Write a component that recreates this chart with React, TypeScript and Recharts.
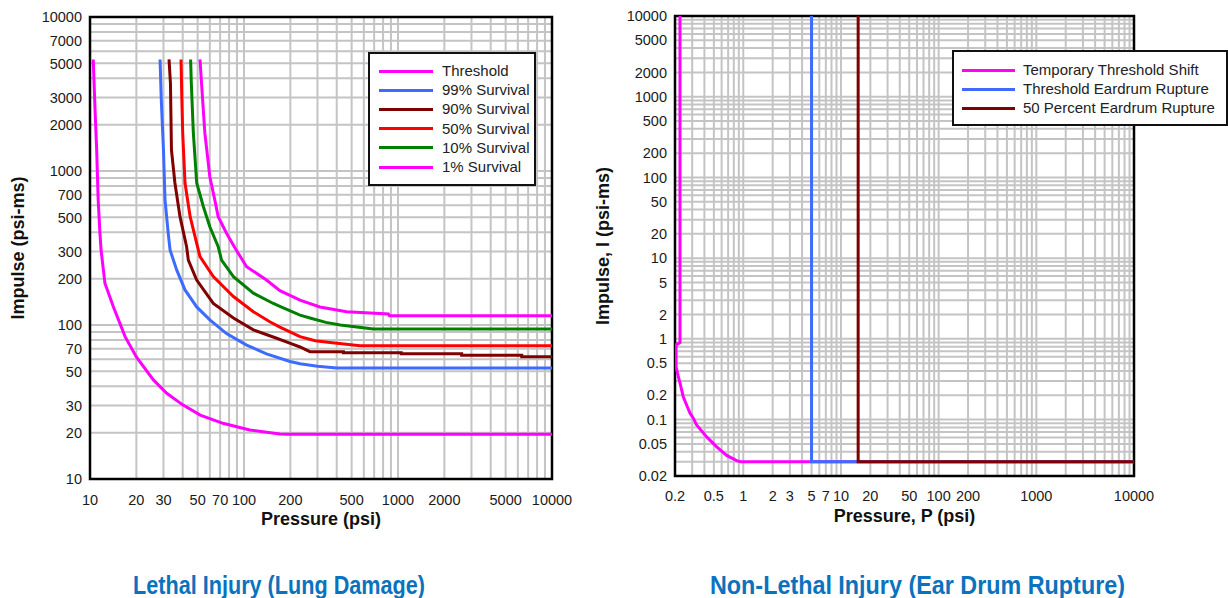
import React from "react";
import { LineChart, Line, XAxis, YAxis, CartesianGrid, ReferenceArea, Label } from "recharts";

type Pt = { p: number; i: number };
const pts = (rows: number[][]): Pt[] => rows.map(([p, i]) => ({ p, i }));

// Lethal injury (lung damage): [pressure psi, impulse psi-ms]
const lungThreshold = pts([
  [10.5, 5300], [10.6, 4000], [10.8, 2400], [11.05, 1370], [11.3, 650], [11.6, 395],
  [11.8, 307], [12.5, 187], [14.2, 131], [16.9, 84], [20, 62], [25.8, 44], [31.5, 36],
  [40, 30.3], [52, 26], [73, 23], [109, 20.8], [171, 19.6], [200, 19.5], [10000, 19.5],
]);
const lung99 = pts([
  [28.5, 5300], [29, 3000], [29.5, 2000], [30, 1370], [30.7, 650], [32.2, 395], [33.1, 307],
  [36.6, 227], [41.4, 169], [49.3, 131], [60, 108], [77, 88], [104, 74], [140, 65],
  [199, 58], [231, 56], [300, 54], [400, 52.5], [10000, 52.5],
]);
const lung90 = pts([
  [32.6, 5300], [33.3, 3700], [33.8, 1370], [35.6, 836], [38.4, 505], [42.4, 322],
  [43.5, 264], [49.3, 196], [63.2, 138], [85.4, 111], [115, 93], [163, 82], [200, 76],
  [231, 72], [268, 67.1], [442, 67.1], [442, 66.1], [1050, 66.1], [1050, 65.1],
  [2590, 65.1], [2590, 63.6], [6360, 63.6], [6360, 62.2], [10000, 62.2],
]);
const lung50 = pts([
  [39, 5300], [39.5, 2890], [40, 1760], [41.4, 836], [44.7, 505], [49.3, 339], [51.8, 278],
  [63.2, 206], [85.4, 153], [115, 122], [147, 105], [171, 97], [231, 84], [290, 79],
  [363, 77], [566, 73.4], [10000, 73.4],
]);
const lung10 = pts([
  [45, 5300], [45.5, 3700], [46.9, 1760], [49.3, 836], [54.5, 586], [60, 434], [68, 322],
  [71.5, 264], [85.4, 206], [115, 161], [155, 138], [171, 132], [231, 116], [268, 111],
  [340, 104], [422, 100], [692, 94.2], [10000, 94.2],
]);
const lung1 = pts([
  [51.8, 5300], [53, 3700], [55.7, 1760], [60, 918], [64.6, 649], [68, 505], [77, 394],
  [87.6, 315], [104, 239], [140, 196], [171, 167], [231, 145], [311, 131], [464, 122],
  [866, 118], [880, 115], [10000, 115],
]);

// Non-lethal injury (ear drum rupture)
const earTts = pts([
  [0.225, 10000], [0.225, 0.9], [0.205, 0.85], [0.205, 0.45], [0.215, 0.35], [0.225, 0.284],
  [0.243, 0.192], [0.27, 0.14], [0.285, 0.12], [0.308, 0.104], [0.333, 0.086], [0.422, 0.061],
  [0.535, 0.046], [0.676, 0.036], [0.855, 0.031], [0.93, 0.03], [10000, 0.03],
]);
const earThreshold = pts([[5, 10000], [5, 0.03], [10000, 0.03]]);
const ear50 = pts([[15, 10000], [15, 0.03], [10000, 0.03]]);

const lungXTicks = [10, 20, 30, 50, 70, 100, 200, 500, 1000, 2000, 5000, 10000];
const lungYTicks = [10, 20, 30, 50, 70, 100, 200, 300, 500, 700, 1000, 2000, 3000, 5000, 7000, 10000];
const earXTicks = [0.2, 0.5, 1, 2, 3, 5, 7, 10, 20, 50, 100, 200, 1000, 10000];
const earYTicks = [0.02, 0.05, 0.1, 0.2, 0.5, 1, 2, 5, 10, 20, 50, 100, 200, 500, 1000, 2000, 5000, 10000];

const MAGENTA = "#ff00ff";
const BLUE = "#3d6bff";
const MAROON = "#800000";
const RED = "#ff0000";
const GREEN = "#008000";

const lungSeries = [
  { name: "Threshold", color: MAGENTA, data: lungThreshold },
  { name: "99% Survival", color: BLUE, data: lung99 },
  { name: "90% Survival", color: MAROON, data: lung90 },
  { name: "50% Survival", color: RED, data: lung50 },
  { name: "10% Survival", color: GREEN, data: lung10 },
  { name: "1% Survival", color: MAGENTA, data: lung1 },
];
const earSeries = [
  { name: "Temporary Threshold Shift", color: MAGENTA, data: earTts },
  { name: "Threshold Eardrum Rupture", color: BLUE, data: earThreshold },
  { name: "50 Percent Eardrum Rupture", color: MAROON, data: ear50 },
];

// log-paper grid: 1..9 in each decade
function logGrid(lo: number, hi: number) {
  const out: number[] = [];
  for (let d = Math.floor(Math.log10(lo)); d < Math.log10(hi); d++) {
    for (let k = 1; k < 10; k++) {
      const v = +(k * Math.pow(10, d)).toPrecision(6);
      if (v >= lo && v <= hi) out.push(v);
    }
  }
  out.push(hi);
  return out;
}

const FONT = "'Liberation Sans', Arial, sans-serif";
const tick = { fontSize: 14.5, fill: "#1a1a1a", fontFamily: FONT };
const axisLabel = { fontSize: 18, fontWeight: 700, fill: "#111", fontFamily: FONT };

type Series = { name: string; color: string; data: Pt[] };

function LegendBox(props: {
  items: Series[]; left: number; top: number; width: number; height: number;
  lineX: number; lineW: number; textX: number; firstY: number; step: number;
}) {
  const { items, left, top, width, height, lineX, lineW, textX, firstY, step } = props;
  return (
    <div style={{ position: "absolute", left, top, width, height, boxSizing: "border-box", border: "2px solid #111", background: "#fff" }}>
      {items.map((s, k) => (
        <div key={k} style={{ position: "absolute", left: 0, top: firstY + k * step - 10, height: 20, width: "100%" }}>
          <div style={{ position: "absolute", left: lineX, top: 8.5, width: lineW, height: 3, background: s.color }} />
          <div style={{ position: "absolute", left: textX, top: 0, lineHeight: "20px", fontSize: 15, fontFamily: FONT, color: "#222", whiteSpace: "nowrap" }}>
            {s.name}
          </div>
        </div>
      ))}
    </div>
  );
}

function LungChart() {
  return (
    <LineChart width={590} height={545} margin={{ top: 17, right: 38, left: 0, bottom: 16 }}>
      <CartesianGrid stroke="#c4c4c4" strokeWidth={2} verticalValues={logGrid(10, 10000)} horizontalValues={logGrid(10, 10000)} />
      <XAxis dataKey="p" type="number" scale="log" domain={[10, 10000]} allowDataOverflow ticks={lungXTicks}
        interval={0} tickLine={false} axisLine={false} tick={tick} tickMargin={10} height={50}>
        <Label value="Pressure (psi)" position="insideBottom" offset={4} style={axisLabel} />
      </XAxis>
      <YAxis dataKey="i" type="number" scale="log" domain={[10, 10000]} allowDataOverflow ticks={lungYTicks}
        interval={0} tickLine={false} axisLine={false} tick={tick} width={90}>
        <Label value="Impulse (psi-ms)" angle={-90} position="insideLeft" offset={18} style={{ ...axisLabel, textAnchor: "middle" }} />
      </YAxis>
      {lungSeries.map((s) => (
        <Line key={s.name} data={s.data} dataKey="i" name={s.name} stroke={s.color} strokeWidth={3}
          dot={false} type="linear" isAnimationActive={false} />
      ))}
      <ReferenceArea x1={10} x2={10000} y1={10} y2={10000} fill="none" stroke="#000" strokeWidth={2.5} ifOverflow="visible" />
    </LineChart>
  );
}

function EarChart() {
  return (
    <LineChart width={580} height={545} margin={{ top: 16, right: 36, left: 0, bottom: 19 }}>
      <CartesianGrid stroke="#c4c4c4" strokeWidth={2} verticalValues={logGrid(0.2, 10000)} horizontalValues={logGrid(0.02, 10000)} />
      <XAxis dataKey="p" type="number" scale="log" domain={[0.2, 10000]} allowDataOverflow ticks={earXTicks}
        interval={0} tickLine={false} axisLine={false} tick={tick} tickMargin={9} height={50}>
        <Label value="Pressure, P (psi)" position="insideBottom" offset={4} style={axisLabel} />
      </XAxis>
      <YAxis dataKey="i" type="number" scale="log" domain={[0.02, 10000]} allowDataOverflow ticks={earYTicks}
        interval={0} tickLine={false} axisLine={false} tick={tick} width={85}>
        <Label value="Impulse, I (psi-ms)" angle={-90} position="insideLeft" offset={13} style={{ ...axisLabel, textAnchor: "middle" }} />
      </YAxis>
      {earSeries.map((s) => (
        <Line key={s.name} data={s.data} dataKey="i" name={s.name} stroke={s.color} strokeWidth={3}
          dot={false} type="linear" isAnimationActive={false} />
      ))}
      <ReferenceArea x1={0.2} x2={10000} y1={0.02} y2={10000} fill="none" stroke="#000" strokeWidth={2.5} ifOverflow="visible" />
    </LineChart>
  );
}

export default function App() {
  return (
    <div style={{ position: "absolute", left: 0, top: 0, width: 1228, height: 598, overflow: "hidden", background: "#fff" }}>
      <div style={{ position: "absolute", left: 0, top: 0 }}>
        <LungChart />
      </div>
      <div style={{ position: "absolute", left: 590, top: 0 }}>
        <EarChart />
      </div>
      <LegendBox items={lungSeries} left={368} top={52} width={168} height={134}
        lineX={9} lineW={54} textX={72} firstY={17} step={19.2} />
      <LegendBox items={earSeries} left={952} top={50} width={276} height={76}
        lineX={8} lineW={53} textX={69} firstY={18} step={19} />
      <svg width={1228} height={598} style={{ position: "absolute", left: 0, top: 0, pointerEvents: "none" }}>
        <text x={279} y={594} textAnchor="middle" textLength={292} lengthAdjust="spacingAndGlyphs"
          fontSize={25} fontWeight={700} fill="#0b72be" fontFamily={FONT}>Lethal Injury (Lung Damage)</text>
        <text x={917.5} y={594} textAnchor="middle" textLength={415} lengthAdjust="spacingAndGlyphs"
          fontSize={25} fontWeight={700} fill="#0b72be" fontFamily={FONT}>Non-Lethal Injury (Ear Drum Rupture)</text>
      </svg>
    </div>
  );
}
